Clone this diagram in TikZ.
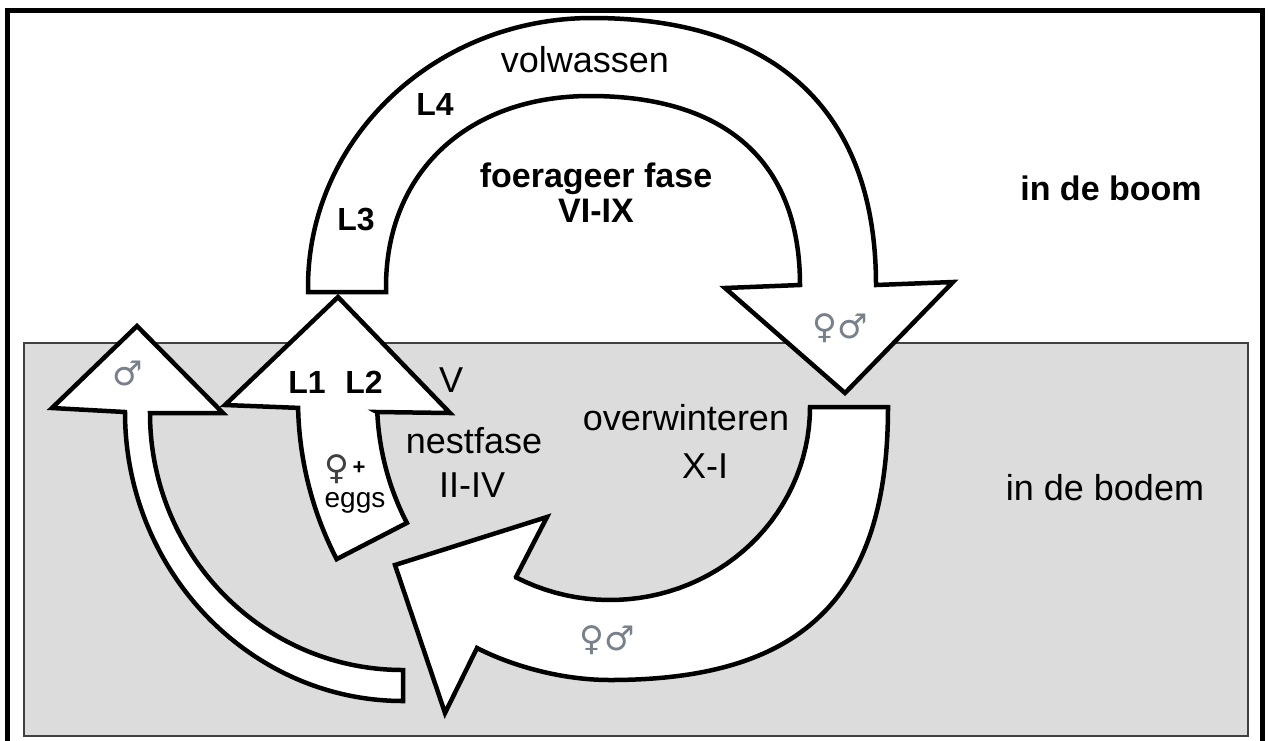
\documentclass[tikz,border=0pt]{standalone}
\usepackage{fontspec}
\setmainfont{Liberation Sans}
\newfontfamily\symfont{DejaVu Sans}
\definecolor{groundgray}{HTML}{DCDCDC}
\definecolor{groundedge}{HTML}{404040}
\definecolor{symgray}{RGB}{120,128,140}
\begin{document}
\begin{tikzpicture}[x=1pt,y=-1pt,
  arrowshape/.style={draw=black, line width=4.5pt, fill=white, line join=miter},
  lbl/.style={anchor=base, inner sep=0pt, font=\fontsize{36}{40}\selectfont},
  blbl/.style={anchor=base, inner sep=0pt, font=\fontsize{32}{36}\selectfont\bfseries},
  bigblbl/.style={anchor=base, inner sep=0pt, font=\fontsize{34}{38}\selectfont\bfseries},
  sym/.style={inner sep=0pt, text=symgray, font=\symfont\fontsize{34}{40}\selectfont}]
\useasboundingbox (0,0) rectangle (1268,740);
% frame
\draw[line width=5pt] (7.5,760) -- (7.5,10.5) -- (1262,10.5) -- (1262,760);
% soil
\draw[groundedge, line width=2pt, fill=groundgray] (24,343) rectangle (1248,736);
% top arc arrow (in de boom)
\draw[arrowshape] (308,292) -- (308,287)
  .. controls (308,138.5) and (435,18) .. (592,18)
  .. controls (777,18) and (876,112) .. (876,285)
  -- (953,282) -- (845,393) -- (725,288) -- (800,285)
  .. controls (800,162) and (726,96) .. (590,96)
  .. controls (468,96) and (386,172) .. (386,287)
  -- (386,292) -- cycle;
% bottom arrow (overwinteren)
\draw[arrowshape] (810,407) -- (888,407)
  .. controls (888,600) and (800,680) .. (610,680)
  .. controls (560,680) and (510,665) .. (477,648)
  -- (445,713) -- (395,565) -- (547,517) -- (516,577)
  -- plot[domain=118:0, samples=40] ({610+200*cos(\x)},{407+193*sin(\x)})
  -- cycle;
% male arrow
\draw[arrowshape] (52,408) -- (137,326) -- (223,413) -- (150,413)
  .. controls (150,555) and (263,670) .. (403,670)
  -- (403,701)
  .. controls (250,701) and (125,571) .. (125,412) -- cycle;
% L1 L2 arrow
\draw[arrowshape] (225,405) -- (338,297) -- (450,413) -- (377,412)
  -- plot[domain=177.4:152.7, samples=30] ({645+268*cos(\x)},{400+268*sin(\x)})
  -- plot[domain=152.7:178.7, samples=30] ({645+347*cos(\x)},{400+347*sin(\x)})
  -- cycle;
% labels
\node[lbl] (volw) at (585,72) {volwassen};
\node[blbl] (l4) at (435,115) {L4};
\node[blbl] (l3) at (356,230) {L3};
\node[bigblbl] (foer) at (596,187) {foerageer fase};
\node[bigblbl] (vi) at (596,222) {VI-IX};
\node[bigblbl] (boom) at (1111,200) {in de boom};
\node[blbl] (l1) at (307,393) {L1};
\node[blbl] (l2) at (364,393) {L2};
\node[lbl] (v) at (451,392) {V};
\node[lbl] (nest) at (474,453) {nestfase};
\node[lbl] (nestm) at (472,497) {II-IV};
\node[lbl] (over) at (686,430) {overwinteren};
\node[lbl] (overm) at (705,478) {X-I};
\node[lbl] (bodem) at (1105,500) {in de bodem};
\node[sym] (fmtop) at (840,328) {♀♂};
\node[sym] (mleft) at (128,373) {♂};
\node[sym] (fmbot) at (607,640) {♀♂};
\node[sym, text=groundedge] (fnest) at (337,469) {♀};
\node[inner sep=0pt, font=\fontsize{22}{24}\selectfont\bfseries] (plus) at (359,468) {+};
\node[anchor=base, inner sep=0pt, font=\fontsize{28}{30}\selectfont] (eggs) at (355,507) {eggs};
\end{tikzpicture}
\end{document}
